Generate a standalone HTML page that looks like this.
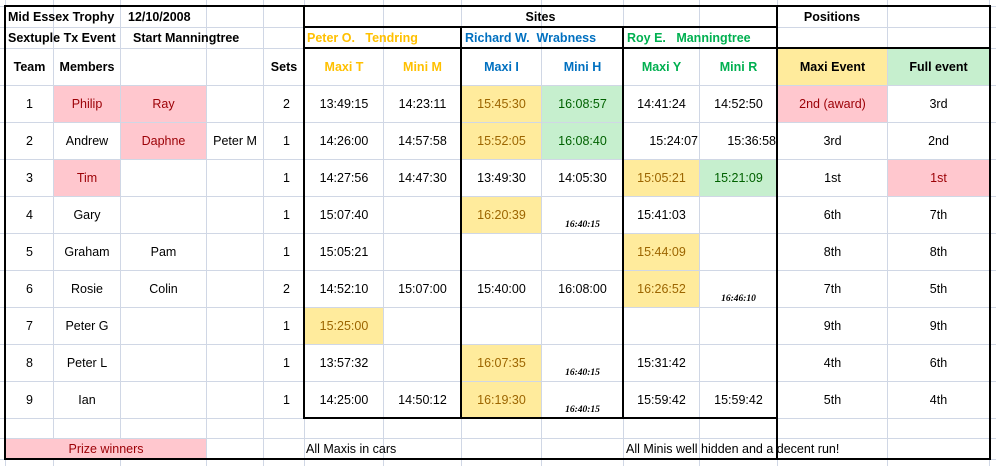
<!DOCTYPE html>
<html><head><meta charset="utf-8"><style>
body{margin:0;width:996px;height:466px;background:#fff;overflow:hidden;font-family:"Liberation Sans",sans-serif;}
#sheet{position:absolute;left:0;top:0;width:996px;height:466px;}
.g{position:absolute;background:#d0d7e5;}
.k{position:absolute;background:#000;}
.c{position:absolute;display:flex;align-items:center;justify-content:center;font-size:12.5px;color:#000;white-space:pre;box-sizing:border-box;}
.b{font-weight:bold;}
.pk{background:#ffc7ce;color:#9c0006;}
.yl{background:#ffeb9c;color:#9c6500;}
.gr{background:#c6efce;color:#006100;}
.sm{font-family:"Liberation Serif",serif;font-style:italic;font-weight:bold;font-size:9.5px;align-items:flex-end;padding-bottom:3px;}
</style></head><body>
<div id="sheet"></div>
<script>
const teams=["1","2","3","4","5","6","7","8","9"];
const member1=["Philip","Andrew","Tim","Gary","Graham","Rosie","Peter G","Peter L","Ian"];
const member2=["Ray","Daphne","","","Pam","Colin","","",""];
const member3=["","Peter M","","","","","","",""];
const sets=["2","1","1","1","1","2","1","1","1"];
const maxiT=["13:49:15","14:26:00","14:27:56","15:07:40","15:05:21","14:52:10","15:25:00","13:57:32","14:25:00"];
const miniM=["14:23:11","14:57:58","14:47:30","","","15:07:00","","","14:50:12"];
const maxiI=["15:45:30","15:52:05","13:49:30","16:20:39","","15:40:00","","16:07:35","16:19:30"];
const miniH=["16:08:57","16:08:40","14:05:30","16:40:15","","16:08:00","","16:40:15","16:40:15"];
const maxiY=["14:41:24","15:24:07","15:05:21","15:41:03","15:44:09","16:26:52","","15:31:42","15:59:42"];
const miniR=["14:52:50","15:36:58","15:21:09","","","16:46:10","","","15:59:42"];
const maxiEvent=["2nd (award)","3rd","1st","6th","8th","7th","9th","4th","5th"];
const fullEvent=["3rd","2nd","1st","7th","8th","5th","9th","6th","4th"];
// style flags (per column index: fill class)
const fills={"0-1":"pk","0-2":"pk","0-7":"yl","0-8":"gr","0-11":"pk","1-2":"pk","1-7":"yl","1-8":"gr","2-1":"pk","2-9":"yl","2-10":"gr","2-12":"pk","3-7":"yl","4-9":"yl","5-9":"yl","6-5":"yl","7-7":"yl","8-7":"yl"};
const small={"3-8":1,"5-10":1,"7-8":1,"8-8":1};
const colX=[5,53,120,206,263,304,383,461,541,623,699,777,887,989];
const rowY0=85,rowH=37;
const S=document.getElementById('sheet');
function add(cls,x,y,w,h){const d=document.createElement('div');d.className=cls;d.style.left=x+'px';d.style.top=y+'px';d.style.width=w+'px';d.style.height=h+'px';S.appendChild(d);return d;}
// gridlines
const gx=[5,53,120,206,263,304,383,461,541,623,699,777,887,989];
gx.forEach(x=>{const d=add('g',x,0,1,466);});
const gy=[6,27,48,85,122,159,196,233,270,307,344,381,418,438,459];
gy.forEach(y=>{const d=add('g',0,y,996,1);});
function cell(text,x,y,w,h,cls,name){const d=add('c '+(cls||''),x,y,w,h);d.textContent=text;return d;}
// header
let t;
t=cell("Mid Essex Trophy",8,6,112,21,'b','title');t.style.justifyContent='flex-start';
t=cell("12/10/2008",128,6,90,21,'b','event-date');t.style.justifyContent='flex-start';
t=cell("Sextuple Tx Event",8,27,115,21,'b','event-type');t.style.justifyContent='flex-start';
t=cell("Start Manningtree",133,27,130,21,'b','start-location');t.style.justifyContent='flex-start';
cell("Sites",304,6,473,21,'b','sites-header');
cell("Positions",777,6,110,21,'b','positions-header');
t=cell("Peter O.   Tendring",307,27,150,21,'b','site-tendring');t.style.justifyContent='flex-start';t.style.color='#ffc000';
t=cell("Richard W.  Wrabness",465,27,160,21,'b','site-wrabness');t.style.justifyContent='flex-start';t.style.color='#0070c0';
t=cell("Roy E.   Manningtree",627,27,150,21,'b','site-manningtree');t.style.justifyContent='flex-start';t.style.color='#00b050';
const heads=["Team","Members","","","Sets","Maxi T","Mini M","Maxi I","Mini H","Maxi Y","Mini R","Maxi Event","Full event"];
const hcol=["#000","#000","#000","#000","#000","#ffc000","#ffc000","#0070c0","#0070c0","#00b050","#00b050","#000","#000"];
heads.forEach((h,i)=>{const c=cell(h,colX[i]+1,48,colX[i+1]-colX[i]-1,37,'b'+(i==11?' yl':'')+(i==12?' gr':''),'column-header');c.style.color=hcol[i];});
// body
const cols=[teams,member1,member2,member3,sets,maxiT,miniM,maxiI,miniH,maxiY,miniR,maxiEvent,fullEvent];
const cnames=["team","member-1","member-2","member-3","sets","maxi-t","mini-m","maxi-i","mini-h","maxi-y","mini-r","maxi-event-position","full-event-position"];
for(let r=0;r<teams.length;r++){
  for(let ci=0;ci<cols.length;ci++){
    const key=r+'-'+ci;let cls=fills[key]||'';if(small[key])cls+=' sm';
    const x=colX[ci]+1,w=colX[ci+1]-colX[ci]-1;
    const c=cell(cols[ci][r],x,rowY0+r*rowH+1,w,rowH-1,cls,cnames[ci]+'-cell');
    if(ci==4){c.style.justifyContent='flex-end';c.style.paddingRight='14px';}
    if(r==1&&(ci==9||ci==10)){c.style.justifyContent='flex-end';c.style.paddingRight='1px';}
  }
}
cell("Prize winners",6,439,200,20,'pk','prize-winners-key');
t=cell("All Maxis in cars",306,439,200,20,'','maxi-note');t.style.justifyContent='flex-start';
t=cell("All Minis well hidden and a decent run!",626,439,300,20,'','mini-note');t.style.justifyContent='flex-start';
// thick borders
function K(x,y,w,h,n){const d=add('k',x,y,w,h);}
K(4,5,987,2,'outer-top');K(4,458,987,2,'outer-bottom');K(4,5,2,455,'outer-left');K(989,5,2,455,'outer-right');
K(303,5,2,414,'sites-left');K(776,5,2,455,'sites-right');K(303,417,475,2,'sites-bottom');
K(303,26,475,2,'sites-subline');K(303,47,688,2,'header-line');
K(460,26,2,393,'divider-i');K(622,26,2,393,'divider-y');
</script>
</body></html>
